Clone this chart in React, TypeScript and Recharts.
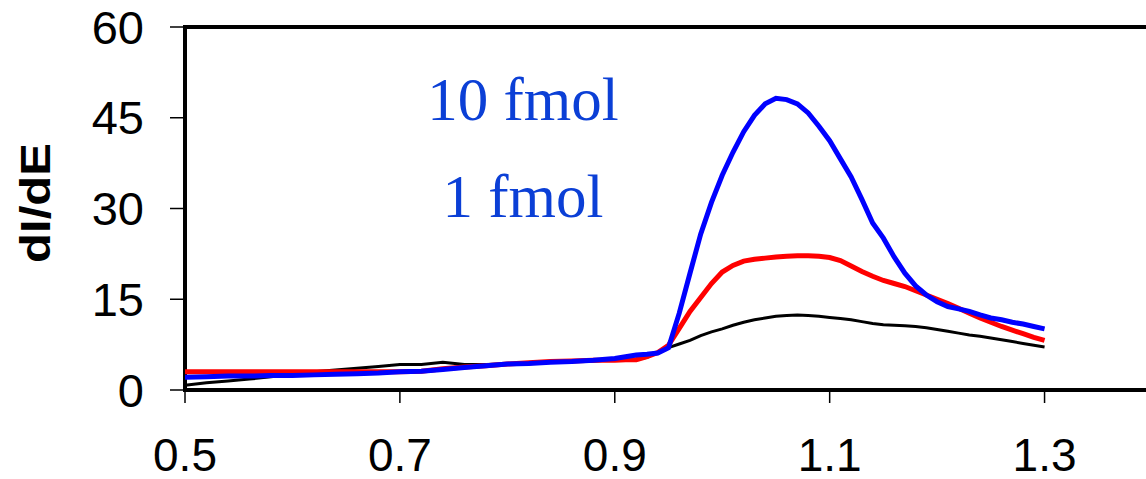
import { LineChart, Line, XAxis, YAxis, ReferenceArea } from 'recharts';

// potential grid (V)
const energy = [
  0.5, 0.52, 0.54, 0.56, 0.58, 0.6, 0.62, 0.64, 0.66, 0.68, 0.7, 0.72, 0.74, 0.76, 0.78, 0.8, 0.82, 0.84, 0.86, 0.88,
  0.9, 0.91, 0.92, 0.93, 0.94, 0.95, 0.96, 0.97, 0.98, 0.99, 1.0, 1.01, 1.02, 1.03, 1.04, 1.05, 1.06, 1.07, 1.08, 1.09,
  1.1, 1.11, 1.12, 1.13, 1.14, 1.15, 1.16, 1.17, 1.18, 1.19, 1.2, 1.21, 1.22, 1.23, 1.24, 1.25, 1.26, 1.27, 1.28, 1.29,
  1.3,
];

// 10 fmol
const blueSeries = [
  2.1, 2.2, 2.3, 2.3, 2.4, 2.4, 2.5, 2.6, 2.7, 2.8, 3.0, 3.1, 3.4, 3.7, 4.0, 4.3, 4.4, 4.6, 4.7, 4.9,
  5.2, 5.5, 5.8, 5.9, 6.1, 7.0, 12.7, 19.3, 25.8, 31.0, 35.5, 39.3, 42.7, 45.4, 47.3, 48.2, 48.0, 47.3, 45.8, 43.6,
  41.2, 38.2, 35.2, 31.5, 27.6, 25.1, 22.0, 19.3, 17.2, 15.7, 14.6, 13.8, 13.4, 13.0, 12.4, 11.9, 11.6, 11.2, 10.9, 10.5,
  10.1,
];

// 1 fmol
const redSeries = [
  3.0, 3.0, 3.0, 3.0, 3.0, 3.0, 3.0, 3.0, 3.0, 3.0, 3.0, 3.1, 3.5, 3.8, 4.0, 4.3, 4.5, 4.7, 4.8, 4.9,
  4.9, 5.0, 5.0, 5.5, 6.2, 7.4, 10.2, 13.0, 15.3, 17.6, 19.5, 20.6, 21.3, 21.6, 21.8, 22.0, 22.1, 22.2, 22.2, 22.1,
  21.9, 21.4, 20.5, 19.6, 18.8, 18.1, 17.6, 17.1, 16.4, 15.7, 15.0, 14.3, 13.5, 12.7, 11.9, 11.2, 10.5, 9.9, 9.3, 8.7,
  8.2,
];

// blank
const blackSeries = [
  0.8, 1.2, 1.5, 1.8, 2.2, 2.6, 3.0, 3.3, 3.6, 3.9, 4.2, 4.2, 4.6, 4.2, 4.2, 4.3, 4.4, 4.6, 4.7, 4.8,
  5.0, 5.0, 5.1, 5.4, 6.2, 7.0, 7.6, 8.2, 9.0, 9.6, 10.1, 10.7, 11.2, 11.6, 11.9, 12.2, 12.3, 12.4, 12.3, 12.2,
  12.0, 11.8, 11.6, 11.3, 11.0, 10.8, 10.7, 10.6, 10.5, 10.3, 10.0, 9.7, 9.4, 9.1, 8.9, 8.6, 8.3, 8.0, 7.7, 7.4,
  7.1,
];

const xTicks = [0.5, 0.7, 0.9, 1.1, 1.3];
const yTicks = [0, 15, 30, 45, 60];

const data = energy.map((e, i) => ({
  e,
  blue: blueSeries[i],
  red: redSeries[i],
  black: blackSeries[i],
}));

const sans = 'Liberation Sans, Arial, sans-serif';
const serif = 'Liberation Serif, Times New Roman, serif';

export default function App() {
  return (
    <div style={{ position: 'absolute', left: 0, top: 0, width: 1146, height: 479, overflow: 'hidden', background: '#fff' }}>
      <LineChart width={1160} height={479} data={data} margin={{ top: 27, right: 8, bottom: 29, left: 0 }}>
        <XAxis
          dataKey="e"
          type="number"
          domain={[0.5, 1.4]}
          ticks={xTicks}
          tickFormatter={(v: number) => v.toFixed(1)}
          axisLine={false}
          tickLine={{ stroke: '#000', strokeWidth: 1.5 }}
          tickSize={13}
          tickMargin={35}
          height={60}
          tick={{ fill: '#000', fontSize: 46, fontFamily: sans }}
          allowDataOverflow
        />
        <YAxis
          domain={[0, 60]}
          ticks={yTicks}
          axisLine={false}
          tickLine={{ stroke: '#000', strokeWidth: 1.5 }}
          tickSize={15}
          tickMargin={26}
          width={185}
          tick={{ fill: '#000', fontSize: 47, fontFamily: sans }}
        />
        {/* plot frame */}
        <ReferenceArea x1={0.5} x2={1.4} y1={0} y2={60} fill="none" stroke="#000" strokeWidth={4} ifOverflow="visible" />
        <Line dataKey="black" stroke="#000" strokeWidth={3} dot={false} isAnimationActive={false} />
        <Line dataKey="red" stroke="#ff0000" strokeWidth={5} dot={false} isAnimationActive={false} />
        <Line dataKey="blue" stroke="#0000ff" strokeWidth={5} dot={false} isAnimationActive={false} />
      </LineChart>

      {/* labels */}
      <svg width={1146} height={479} style={{ position: 'absolute', left: 0, top: 0, pointerEvents: 'none' }}>
        <text
          x={50}
          y={203}
          transform="rotate(-90 50 203)"
          textAnchor="middle"
          fontFamily={sans}
          fontWeight="bold"
          fontSize={43}
          textLength={120}
          lengthAdjust="spacingAndGlyphs"
        >
          dI/dE
        </text>
        <text x={523} y={120} textAnchor="middle" fill="#0b3fd6" fontFamily={serif} fontSize={61}>
          10 fmol
        </text>
        <text x={523} y={217} textAnchor="middle" fill="#0b3fd6" fontFamily={serif} fontSize={61}>
          1 fmol
        </text>
      </svg>
    </div>
  );
}
